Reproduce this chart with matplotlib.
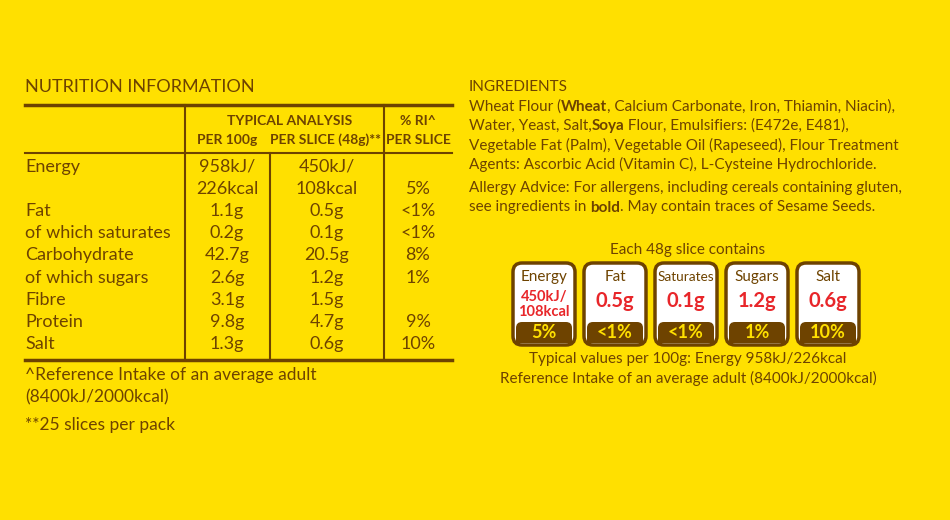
import matplotlib
matplotlib.use("Agg")
import matplotlib.pyplot as plt
from matplotlib.patches import FancyBboxPatch, Rectangle

BG = "#FFE000"; BR = "#6E4300"; RED = "#E8262A"
FONT = "Lato"

nutrients = ["Energy", "", "Fat", "of which saturates", "Carbohydrate", "of which sugars", "Fibre", "Protein", "Salt"]
per100 = ["958kJ/", "226kcal", "1.1g", "0.2g", "42.7g", "2.6g", "3.1g", "9.8g", "1.3g"]
perslice = ["450kJ/", "108kcal", "0.5g", "0.1g", "20.5g", "1.2g", "1.5g", "4.7g", "0.6g"]
ri = ["", "5%", "<1%", "<1%", "8%", "1%", "", "9%", "10%"]

box_labels = ["Energy", "Fat", "Saturates", "Sugars", "Salt"]
box_values = ["450kJ/\n108kcal", "0.5g", "0.1g", "1.2g", "0.6g"]
box_pct = ["5%", "<1%", "<1%", "1%", "10%"]

ingredients = [
    [("Wheat Flour (", False), ("Wheat", True), (", Calcium Carbonate, Iron, Thiamin, Niacin),", False)],
    [("Water, Yeast, Salt,", False), ("Soya", True), (" Flour, Emulsifiers: (E472e, E481),", False)],
    [("Vegetable Fat (Palm), Vegetable Oil (Rapeseed), Flour Treatment", False)],
    [("Agents: Ascorbic Acid (Vitamin C), L-Cysteine Hydrochloride.", False)],
]
allergy = [
    [("Allergy Advice: For allergens, including cereals containing gluten,", False)],
    [("see ingredients in ", False), ("bold", True), (". May contain traces of Sesame Seeds.", False)],
]

fig = plt.figure(figsize=(9.5, 5.2), dpi=100, facecolor=BG)
ax = fig.add_axes([0, 0, 1, 1]); ax.set_xlim(0, 950); ax.set_ylim(520, 0); ax.axis("off")

def T(x, y, s, size=13, ha="left", color=BR, weight="normal", **kw):
    return ax.text(x, y, s, fontsize=size, ha=ha, va="center", color=color, family=FONT, weight=weight, **kw)

# left table
T(25, 87, "NUTRITION INFORMATION", 13)
ax.plot([25, 452], [105, 105], color=BR, lw=2.5)
ax.plot([25, 452], [153, 153], color=BR, lw=1.5)
ax.plot([25, 452], [360, 360], color=BR, lw=2.5)
ax.plot([185, 185], [105, 360], color=BR, lw=1.5)
ax.plot([270, 270], [153, 360], color=BR, lw=1.5)
ax.plot([384, 384], [105, 360], color=BR, lw=1.5)
hs = dict(size=10, ha="center", weight="bold")
T(290, 121, "TYPICAL ANALYSIS", **hs)
T(227, 140, "PER 100g", **hs)
T(326, 140, "PER SLICE (48g)**", **hs)
T(418, 121, "% RI^", **hs)
T(418, 140, "PER SLICE", **hs)
ys = [167, 189, 211, 233, 255, 278, 300, 322, 344]
for y, n, a, b, r in zip(ys, nutrients, per100, perslice, ri):
    T(25, y, n); T(227, y, a, ha="center"); T(327, y, b, ha="center"); T(418, y, r, ha="center")
T(25, 375, "^Reference Intake of an average adult", 12.5)
T(25, 397, "(8400kJ/2000kcal)", 12.5)
T(25, 425, "**25 slices per pack", 12.5)

# ingredients
fig.canvas.draw()
rend = fig.canvas.get_renderer()
inv = ax.transData.inverted()
def rich(x, y, parts, size=11):
    for s, b in parts:
        t = T(x, y, s, size, weight="bold" if b else "normal")
        bb = t.get_window_extent(rend)
        x = inv.transform((bb.x1, bb.y0))[0]
T(469, 87, "INGREDIENTS", 11)
for i, p in enumerate(ingredients):
    rich(469, 107 + i * 19, p)
for i, p in enumerate(allergy):
    rich(469, 188 + i * 19.5, p)

# traffic boxes
T(688, 250, "Each 48g slice contains", 11, ha="center")
x0s = [513, 584, 655, 726, 797]
w, top, bot = 62, 263, 345
for x0, l, v, p in zip(x0s, box_labels, box_values, box_pct):
    ax.add_patch(FancyBboxPatch((x0, top), w, bot - top, boxstyle="round,pad=0,rounding_size=9",
                                fc="white", ec=BR, lw=2.5, zorder=2))
    ax.add_patch(FancyBboxPatch((x0 + 3, 322), w - 6, bot - 322 - 2, boxstyle="round,pad=0,rounding_size=6",
                                fc=BR, ec="none", zorder=3))
    ax.add_patch(Rectangle((x0 + 3, 328), w - 6, bot - 328 - 2, fc=BR, ec="none", zorder=3))
    T(x0 + w / 2, 277, l, 11 if l != "Saturates" else 9.8, ha="center", zorder=4)
    if "\n" in v:
        a, b = v.split("\n")
        T(x0 + w / 2, 297, a, 10.5, ha="center", color=RED, weight="bold", zorder=4)
        T(x0 + w / 2, 312, b, 10.5, ha="center", color=RED, weight="bold", zorder=4)
    else:
        T(x0 + w / 2, 301, v, 14.5, ha="center", color=RED, weight="bold", zorder=4)
    T(x0 + w / 2, 333, p, 13, ha="center", color=BG, weight="bold", zorder=4)
T(688, 359, "Typical values per 100g: Energy 958kJ/226kcal", 11, ha="center")
T(688, 378, "Reference Intake of an average adult (8400kJ/2000kcal)", 11, ha="center")

fig.savefig("out.png", dpi=100, facecolor=BG)
